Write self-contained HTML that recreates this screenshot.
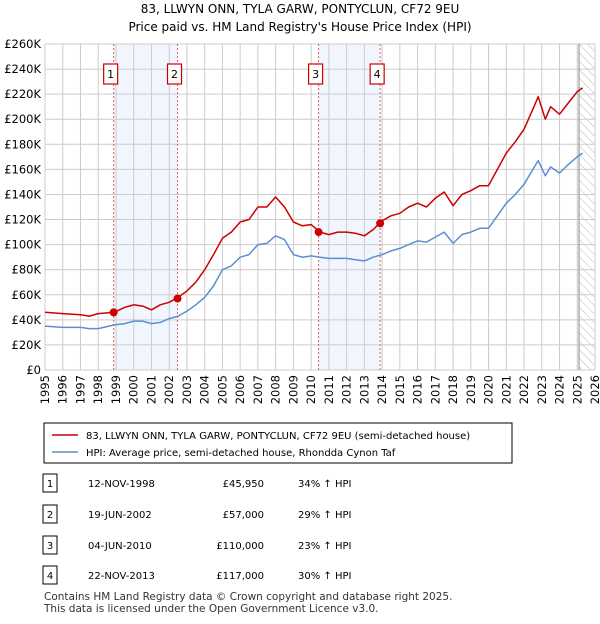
<!DOCTYPE html>
<html><head><meta charset="utf-8"><style>
body{margin:0;background:#fff;font-family:"DejaVu Sans","Liberation Sans",sans-serif;}
svg text{font-family:"DejaVu Sans","Liberation Sans",sans-serif;}
</style></head><body>
<svg id="c" width="600" height="620" xmlns="http://www.w3.org/2000/svg">
<defs><pattern id="hatch" width="6" height="6" patternUnits="userSpaceOnUse" patternTransform="rotate(-45)"><line x1="0" y1="0" x2="0" y2="6" stroke="#bbb" stroke-width="1"/></pattern></defs>
<text x="300" y="13" text-anchor="middle" font-size="12">83, LLWYN ONN, TYLA GARW, PONTYCLUN, CF72 9EU</text>
<text x="300" y="31" text-anchor="middle" font-size="12">Price paid vs. HM Land Registry's House Price Index (HPI)</text>
<g id="plot"></g>
<g>
<rect x="44" y="423" width="468" height="40" fill="#fff" stroke="#000" stroke-width="1"/>
<line x1="52" y1="435" x2="78" y2="435" stroke="#cc0000" stroke-width="1.5"/>
<text x="86" y="439" font-size="10">83, LLWYN ONN, TYLA GARW, PONTYCLUN, CF72 9EU (semi-detached house)</text>
<line x1="52" y1="452" x2="78" y2="452" stroke="#5b8fd0" stroke-width="1.5"/>
<text x="86" y="456" font-size="10">HPI: Average price, semi-detached house, Rhondda Cynon Taf</text>
</g>
<g id="table"></g>
<text x="44" y="600" font-size="10.5" fill="#333">Contains HM Land Registry data © Crown copyright and database right 2025.</text>
<text x="44" y="612" font-size="10.5" fill="#333">This data is licensed under the Open Government Licence v3.0.</text>
</svg>
<script>
const hpiYears=[1995,1996,1997,1997.5,1998,1998.9,1999.5,2000,2000.5,2001,2001.5,2002,2002.5,2003,2003.5,2004,2004.5,2005,2005.5,2006,2006.5,2007,2007.5,2008,2008.5,2009,2009.5,2010,2010.5,2011,2011.5,2012,2012.5,2013,2013.5,2014,2014.5,2015,2015.5,2016,2016.5,2017,2017.5,2018,2018.5,2019,2019.5,2020,2020.5,2021,2021.5,2022,2022.5,2022.8,2023.2,2023.5,2024,2024.5,2025,2025.3];
const hpiValues=[35,34,34,33,33,36,37,39,39,37,38,41,43,47,52,58,67,80,83,90,92,100,101,107,104,92,90,91,90,89,89,89,88,87,90,92,95,97,100,103,102,106,110,101,108,110,113,113,123,133,140,148,160,167,155,162,157,164,170,173];
const priceValues=[46,45,44,43,45,46,50,52,51,48,52,54,58,63,70,80,92,105,110,118,120,130,130,138,130,118,115,116,110,108,110,110,109,107,112,119,123,125,130,133,130,137,142,131,140,143,147,147,160,173,182,192,208,218,200,210,204,213,222,225];
const saleYears=[1998.87,2002.47,2010.42,2013.89];
const saleValues=[45.95,57,110,117];
const saleDates=["12-NOV-1998","19-JUN-2002","04-JUN-2010","22-NOV-2013"];
const salePrices=["£45,950","£57,000","£110,000","£117,000"];
const salePct=["34% ↑ HPI","29% ↑ HPI","23% ↑ HPI","30% ↑ HPI"];
const yTicks=[0,20,40,60,80,100,120,140,160,180,200,220,240,260];
const xTicks=[1995,1996,1997,1998,1999,2000,2001,2002,2003,2004,2005,2006,2007,2008,2009,2010,2011,2012,2013,2014,2015,2016,2017,2018,2019,2020,2021,2022,2023,2024,2025,2026];
const NS="http://www.w3.org/2000/svg";
const X0=45,X1=595,Y0=370,Y1=44;
const xs=y=>X0+(y-1995)/(2026-1995)*(X1-X0);
const ys=v=>Y0-v/260*(Y0-Y1);
const plot=document.getElementById('plot');
function mk(tag,attrs,parent){const e=document.createElementNS(NS,tag);for(const k in attrs)e.setAttribute(k,attrs[k]);(parent||plot).appendChild(e);return e;}
for(const [a,b] of [[0,1],[2,3]]){const r=mk('rect',{x:xs(saleYears[a]),y:Y1,width:xs(saleYears[b])-xs(saleYears[a]),height:Y0-Y1,fill:'#eef3fc',opacity:0.8});

}
const hr=mk('rect',{x:xs(2025.1),y:Y1,width:X1-xs(2025.1),height:Y0-Y1,fill:'url(#hatch)'});


yTicks.forEach(v=>{const l=mk('line',{x1:X0,x2:X1,y1:ys(v),y2:ys(v),stroke:'#ccc','stroke-width':1});


const t=mk('text',{x:X0-4,y:ys(v)+4,'text-anchor':'end','font-size':11.5});t.textContent='£'+(v?v+'K':'0');

});
xTicks.forEach(y=>{const l=mk('line',{x1:xs(y),x2:xs(y),y1:Y1,y2:Y0,stroke:'#ccc','stroke-width':1});


const tx=xs(y)+4,ty=Y0+5;
const t=mk('text',{x:tx,y:ty,'text-anchor':'end','font-size':11.5,transform:'rotate(-90 '+tx+' '+ty+')'});t.textContent=y;

});
const el=mk('line',{x1:xs(2025.1),x2:xs(2025.1),y1:Y1,y2:Y0,stroke:'#888','stroke-width':1});


saleYears.forEach((y,i)=>{const l=mk('line',{x1:xs(y),x2:xs(y),y1:Y1,y2:Y0,stroke:'#e06060','stroke-width':1,'stroke-dasharray':'2,2'});


const g=mk('g',{});


mk('rect',{x:xs(y)-10,y:64,width:14,height:20,fill:'#fff',stroke:'#cc0000','stroke-width':1.2},g);
const t=mk('text',{x:xs(y)-3,y:78,'text-anchor':'middle','font-size':11},g);t.textContent=i+1;});
function line(vals,color,name){const d=hpiYears.map((y,i)=>(i?'L':'M')+xs(y).toFixed(1)+','+ys(vals[i]).toFixed(1)).join('');
const p=mk('path',{d:d,fill:'none',stroke:color,'stroke-width':1.5,'stroke-linejoin':'round'});

}
line(hpiValues,'#5b8fd0','hpi-line');
line(priceValues,'#cc0000','price-paid-line');
saleYears.forEach((y,i)=>{const c=mk('circle',{cx:xs(y),cy:ys(saleValues[i]),r:4,fill:'#cc0000'});

});
const tb=document.getElementById('table');
const rowY=[483,514,545,575];
saleDates.forEach((d,i)=>{const y=rowY[i];
const g=mk('g',{},tb);


mk('rect',{x:43,y:y-9,width:14,height:18,fill:'#fff',stroke:'#000','stroke-width':1},g);
let t=mk('text',{x:50,y:y+4,'text-anchor':'middle','font-size':10},g);t.textContent=i+1;
t=mk('text',{x:88,y:y+4,'font-size':10},g);t.textContent=d;
t=mk('text',{x:264,y:y+4,'text-anchor':'end','font-size':10},g);t.textContent=salePrices[i];
t=mk('text',{x:298,y:y+4,'font-size':10},g);t.textContent=salePct[i];});
</script>
</body></html>
